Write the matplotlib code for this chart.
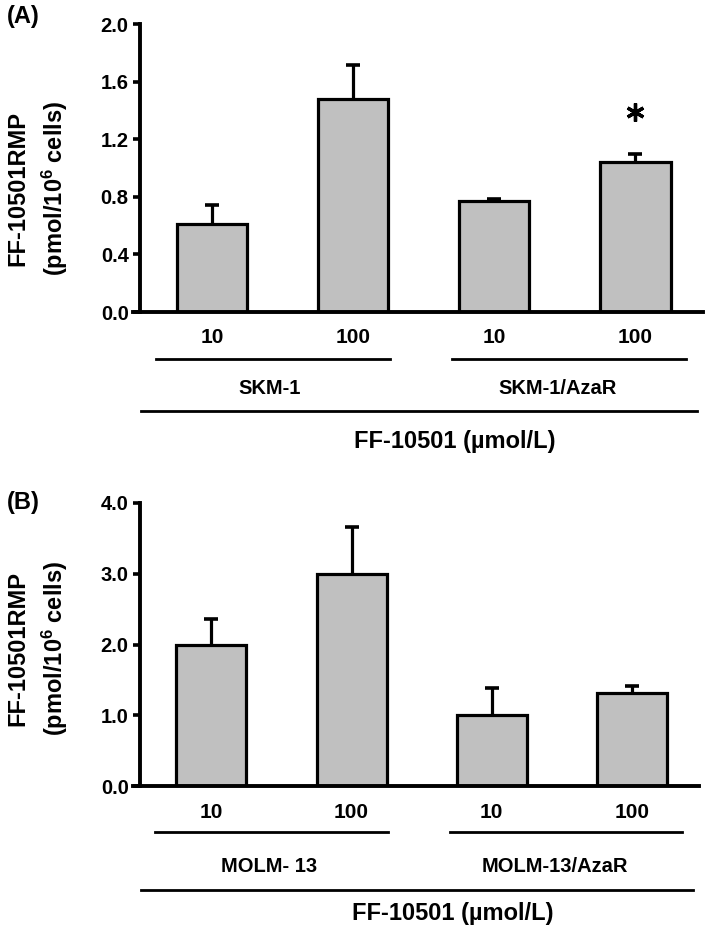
import numpy as np
import matplotlib
matplotlib.use("Agg")
import matplotlib.pyplot as plt
from matplotlib import font_manager

# data
doses = ["10", "100", "10", "100"]
groups_a = ["SKM-1", "SKM-1/AzaR"]
values_a = [0.61, 1.48, 0.77, 1.04]
errors_a = [0.13, 0.235, 0.015, 0.06]
groups_b = ["MOLM- 13", "MOLM-13/AzaR"]
values_b = [2.0, 3.0, 1.0, 1.31]
errors_b = [0.36, 0.66, 0.39, 0.11]
yticks_a = [0.0, 0.4, 0.8, 1.2, 1.6, 2.0]
yticks_b = [0.0, 1.0, 2.0, 3.0, 4.0]
xlabel = "FF-10501 (\u00b5mol/L)"
ylabel = "FF-10501RMP\n(pmol/10$^{6}$ cells)"

names = {f.name for f in font_manager.fontManager.ttflist}
base = "Liberation Sans" if "Liberation Sans" in names else "DejaVu Sans"
plt.rcParams["font.family"] = [base, "DejaVu Sans"]
plt.rcParams["font.weight"] = "bold"
plt.rcParams["mathtext.fontset"] = "custom"
plt.rcParams["mathtext.rm"] = base + ":bold"
plt.rcParams["mathtext.bf"] = base + ":bold"
plt.rcParams["mathtext.it"] = base + ":bold"

W, H = 709, 934
fig = plt.figure(figsize=(W / 100, H / 100), dpi=100)


def box(x0, y_top, x1, y_bot):
    return [x0 / W, 1 - y_bot / H, (x1 - x0) / W, (y_bot - y_top) / H]


def panel(rect, values, errors, yticks, groups, label_y, yl):
    ax = fig.add_axes(rect)
    pos = np.arange(len(values))
    # upper error bars only, drawn behind the bars
    eb = ax.errorbar(pos, values, yerr=[np.zeros(len(errors)), errors],
                     fmt="none", ecolor="black", elinewidth=2.3, capsize=5,
                     capthick=2.6, zorder=1)
    eb[1][0].set_visible(False)
    ax.bar(pos, values, width=0.5, color="#c0c0c0", edgecolor="black",
           linewidth=2.3, zorder=2)
    ax.set_xlim(-0.56, 3.48)
    ax.set_ylim(yticks[0], yticks[-1])
    ax.set_yticks(yticks)
    ax.set_yticklabels(["%.1f" % t for t in yticks])
    ax.set_xticks([])
    for s in ["top", "right"]:
        ax.spines[s].set_visible(False)
    ax.spines["left"].set_position(("axes", 0.012))
    ax.spines["left"].set_linewidth(2.8)
    ax.spines["bottom"].set_linewidth(2.8)
    ax.tick_params(axis="y", direction="out", length=5, width=2.6, pad=3,
                   labelsize=14.5)
    for t in ax.get_yticklabels():
        t.set_fontweight("bold")

    tr = ax.get_xaxis_transform()
    ly = label_y
    for p, d in zip(pos, doses):
        ax.text(p, ly[0], d, transform=tr, ha="center", va="center",
                fontsize=15, fontweight="bold")
    ax.plot([-0.40, 1.26], [ly[1], ly[1]], transform=tr, color="black",
            lw=2.0, clip_on=False)
    ax.plot([1.70, 3.36], [ly[1], ly[1]], transform=tr, color="black",
            lw=2.0, clip_on=False)
    ax.text(0.41, ly[2], groups[0], transform=tr, ha="center", va="center",
            fontsize=14.5, fontweight="bold")
    ax.text(2.45, ly[2], groups[1], transform=tr, ha="center", va="center",
            fontsize=14.5, fontweight="bold")
    ax.plot([-0.50, 3.44], [ly[3], ly[3]], transform=tr, color="black",
            lw=2.0, clip_on=False)
    ax.text(1.72, ly[4], xlabel, transform=tr, ha="center", va="center",
            fontsize=17, fontweight="bold")

    fig.text(38 / W, 1 - yl / H, ylabel, rotation=90, ha="center",
             va="center", ma="center", fontsize=17, fontweight="bold",
             linespacing=1.45)
    return ax


ax_a = panel(box(133, 24, 703, 312), values_a, errors_a, yticks_a, groups_a,
             [-0.087, -0.163, -0.267, -0.344, -0.451], 188)
ax_b = panel(box(133, 503, 699, 786), values_b, errors_b, yticks_b, groups_b,
             [-0.092, -0.163, -0.286, -0.367, -0.449], 648)

# significance mark above the SKM-1/AzaR 100 bar
ax_a.plot([3], [values_a[3] + errors_a[3] + 0.29], linestyle="none",
          marker=(6, 2, 0), markersize=13, markeredgewidth=2.4, color="black")

fig.text(7 / W, 1 - 17 / H, "(A)", ha="left", va="center", fontsize=17,
         fontweight="bold")
fig.text(7 / W, 1 - 503 / H, "(B)", ha="left", va="center", fontsize=17,
         fontweight="bold")

fig.savefig("out.png", dpi=100)
